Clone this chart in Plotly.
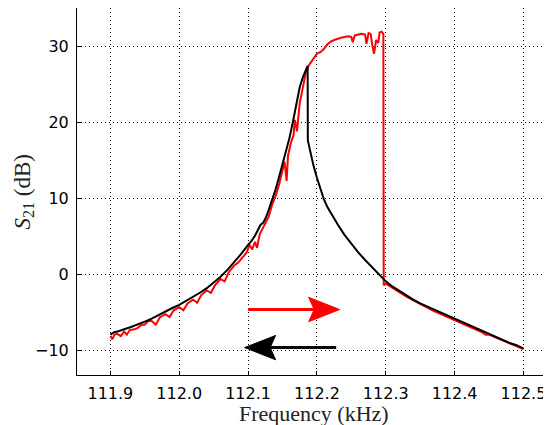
import plotly.graph_objects as go

# backward sweep (black)
freq_down = [111.900, 111.905, 111.910, 111.915, 111.920, 111.930, 111.940, 111.950, 111.960,
             111.970, 111.980, 111.990, 112.000, 112.010, 112.020, 112.030, 112.040, 112.050,
             112.060, 112.070, 112.080, 112.090, 112.100, 112.105, 112.110, 112.115, 112.118,
             112.122, 112.126, 112.130, 112.135, 112.140, 112.145, 112.150, 112.155, 112.160,
             112.165, 112.170, 112.175, 112.180, 112.183, 112.1865, 112.1868, 112.190, 112.195,
             112.200, 112.205, 112.210, 112.215, 112.220, 112.230, 112.240, 112.250, 112.260,
             112.270, 112.280, 112.290, 112.300, 112.310, 112.320, 112.330, 112.340, 112.350,
             112.360, 112.370, 112.380, 112.390, 112.400, 112.410, 112.420, 112.430, 112.436,
             112.440, 112.450, 112.460, 112.470, 112.480, 112.490, 112.500]
s21_down = [-7.9, -7.6, -7.5, -7.3, -7.2, -6.9, -6.6, -6.2, -5.8,
            -5.3, -4.9, -4.4, -4.0, -3.5, -3.0, -2.4, -1.8, -1.1,
            -0.3, 0.6, 1.6, 2.7, 3.9, 4.4, 5.1, 5.9, 6.5,
            6.8, 7.5, 8.5, 9.8, 11.2, 12.8, 14.4, 16.1, 17.9,
            20.0, 22.5, 24.6, 26.0, 26.7, 27.4, 17.6, 16.2, 14.3,
            12.7, 11.2, 9.9, 8.9, 8.1, 6.6, 5.2, 4.0, 2.9,
            1.9, 1.0, 0.0, -0.9, -1.6, -2.2, -2.8, -3.3, -3.8,
            -4.2, -4.7, -5.1, -5.5, -5.9, -6.3, -6.7, -7.0, -7.3,
            -7.4, -7.8, -8.2, -8.6, -9.0, -9.3, -9.7]

# forward sweep (red)
freq_up = [111.900, 111.903, 111.906, 111.910, 111.915, 111.920, 111.924, 111.928, 111.935,
           111.940, 111.945, 111.950, 111.955, 111.960, 111.966, 111.972, 111.980, 111.986,
           111.992, 112.000, 112.006, 112.012, 112.020, 112.026, 112.032, 112.040, 112.046,
           112.052, 112.060, 112.066, 112.072, 112.080, 112.086, 112.092, 112.098, 112.102,
           112.106, 112.110, 112.113, 112.117, 112.120, 112.125, 112.130, 112.135, 112.140,
           112.145, 112.150, 112.153, 112.156, 112.158, 112.162, 112.166, 112.168, 112.171,
           112.175, 112.180, 112.185, 112.190, 112.195, 112.200, 112.205, 112.210, 112.215,
           112.220, 112.225, 112.230, 112.235, 112.240, 112.245, 112.250, 112.252, 112.255,
           112.260, 112.265, 112.270, 112.272, 112.275, 112.278, 112.281, 112.283, 112.286,
           112.289, 112.291, 112.294, 112.2965, 112.297, 112.300, 112.310, 112.320, 112.330,
           112.340, 112.350, 112.360, 112.370, 112.380, 112.390, 112.400, 112.410, 112.420,
           112.430, 112.440, 112.445, 112.450, 112.460, 112.470, 112.480, 112.490, 112.500]
s21_up = [-8.1, -8.5, -7.9, -7.8, -8.1, -7.5, -7.9, -7.3, -7.2,
          -7.0, -6.6, -6.6, -6.1, -6.1, -6.6, -5.6, -5.2, -5.6,
          -4.7, -4.3, -4.7, -3.8, -3.3, -3.7, -2.7, -2.1, -2.4,
          -1.4, -0.6, -0.9, 0.3, 1.2, 1.6, 2.2, 2.9, 3.9,
          3.3, 4.3, 3.5, 5.3, 5.8, 6.6, 7.6, 9.2, 10.3,
          11.8, 13.6, 14.8, 12.3, 15.6, 17.2, 18.3, 20.3, 18.8,
          22.5, 25.0, 27.0, 27.7, 28.4, 29.0, 29.2, 29.6, 30.2,
          30.6, 30.8, 31.0, 31.1, 31.2, 31.3, 31.2, 30.5, 31.4,
          31.5, 31.6, 31.5, 30.3, 31.7, 31.6, 29.8, 29.0, 30.8,
          30.4, 31.8, 31.9, 31.6, -1.4, -1.2, -1.8, -2.3, -2.9,
          -3.4, -3.9, -4.3, -4.8, -5.2, -5.6, -6.0, -6.4, -6.8,
          -7.1, -7.6, -7.9, -7.9, -8.3, -8.7, -9.1, -9.5, -9.8]

x_ticks = [111.9, 112.0, 112.1, 112.2, 112.3, 112.4, 112.5]
y_ticks = [-10, 0, 10, 20, 30]

# sweep direction arrows: (tail x, tip x, y)
arrow_up = [112.100, 112.233, -4.6]
arrow_down = [112.228, 112.095, -9.6]
head_len = 0.045   # kHz
head_half = 1.6    # dB
head_notch = 0.008

fig = go.Figure()
fig.add_trace(go.Scatter(x=freq_up, y=s21_up, mode="lines",
                         line=dict(color="#ff0000", width=2), showlegend=False))
fig.add_trace(go.Scatter(x=freq_down, y=s21_down, mode="lines",
                         line=dict(color="black", width=2), showlegend=False))


def add_arrow(fig, spec, color):
    x0, x1, y = spec
    d = 1 if x1 > x0 else -1
    base = x1 - d * head_len
    fig.add_trace(go.Scatter(x=[x0, base + d * head_notch], y=[y, y], mode="lines",
                             line=dict(color=color, width=3), showlegend=False))
    fig.add_trace(go.Scatter(
        x=[x1, base, base + d * head_notch, base, x1],
        y=[y, y + head_half, y, y - head_half, y],
        mode="lines", fill="toself", fillcolor=color,
        line=dict(color=color, width=1), showlegend=False))


add_arrow(fig, arrow_up, "#ff0000")
add_arrow(fig, arrow_down, "black")

axis_common = dict(
    showgrid=True, gridcolor="black", gridwidth=1, griddash="1px,3px",
    zeroline=False, showline=True, linecolor="black", linewidth=1,
    ticks="inside", ticklen=4, tickcolor="black", automargin=False,
    tickfont=dict(family="DejaVu Sans", size=16, color="black"),
)

fig.update_xaxes(range=[111.8515, 112.54], tickvals=x_ticks, tickformat=".1f",
                 mirror=True, ticklabelstandoff=4, **axis_common)
fig.update_yaxes(range=[-13.2, 35.0], tickvals=y_ticks, ticklabelstandoff=4,
                 **axis_common)

fig.add_annotation(text="Frequency (kHz)", xref="paper", yref="paper", x=0.5, y=0,
                   yanchor="middle", yshift=-38, showarrow=False,
                   font=dict(family="Liberation Serif", size=22, color="#222"))
fig.add_annotation(text="<i>S</i><sub>21</sub> (dB)", xref="paper", yref="paper",
                   x=0, y=0.5, xanchor="center", xshift=-54, textangle=-90,
                   showarrow=False,
                   font=dict(family="Liberation Serif", size=23, color="#222"))

# page body adds 8px around the figure
fig.update_layout(width=543, height=417, margin=dict(l=69, r=0, t=0, b=50),
                  plot_bgcolor="white", paper_bgcolor="white")

fig.write_html("out.html")
